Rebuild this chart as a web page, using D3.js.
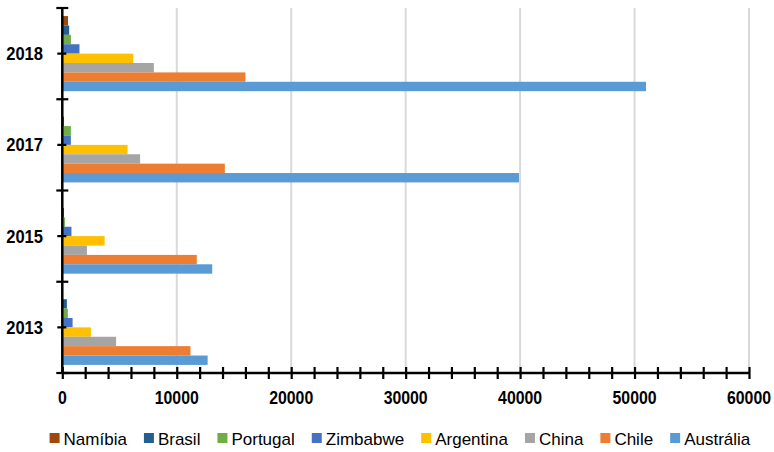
<!DOCTYPE html>
<html><head><meta charset="utf-8">
<script src="https://cdn.jsdelivr.net/npm/d3@7"></script>
<style>body{margin:0;background:#fff}</style>
</head><body>
<svg id="c" width="774" height="452"></svg>
<script>
const years = ["2018","2017","2015","2013"];
const seriesNames = ["Namíbia","Brasil","Portugal","Zimbabwe","Argentina","China","Chile","Austrália"];
const seriesColors = ["#9E480E","#255E91","#70AD47","#4472C4","#FFC000","#A5A5A5","#ED7D31","#5B9BD5"];
const namibia   = [500, 0, 0, 0];
const brasil    = [600, 150, 150, 400];
const portugal  = [750, 750, 230, 480];
const zimbabwe  = [1500, 750, 800, 900];
const argentina = [6200, 5700, 3700, 2500];
const china     = [8000, 6800, 2150, 4700];
const chile     = [16000, 14200, 11750, 11200];
const australia = [51000, 39900, 13100, 12700];
const xTicks = [0,10000,20000,30000,40000,50000,60000];

(function(){
const seriesValues = [namibia,brasil,portugal,zimbabwe,argentina,china,chile,australia];
const svg = d3.select("#c");
const pLeft = 62.3, pRight = 749, pTop = 8, pBottom = 373;
const fontB = "'Liberation Sans',Arial,sans-serif";

const x = d3.scaleLinear().domain([0,60000]).range([pLeft,pRight]);
const y = d3.scaleBand().domain(years).range([pTop,pBottom]).padding(0);
const yi = d3.scaleBand().domain(seriesNames).range([0,y.bandwidth()]).paddingInner(0).paddingOuter(0.86);

// gridlines
svg.append("g").selectAll("line").data(xTicks.slice(1)).join("line")
  .attr("x1",d=>x(d)).attr("x2",d=>x(d)).attr("y1",pTop).attr("y2",pBottom)
  .attr("stroke","#D9D9D9").attr("stroke-width",2);

// bars
const groups = svg.append("g").selectAll("g").data(years).join("g")
  .attr("transform",d=>`translate(0,${y(d)})`);
groups.selectAll("rect").data((yr,i)=>seriesNames.map((s,j)=>({s, c:seriesColors[j], v:seriesValues[j][i]})))
  .join("rect")
  .attr("x",x(0)).attr("y",d=>yi(d.s)).attr("height",yi.bandwidth())
  .attr("width",d=>Math.max(0,x(d.v)-x(0))).attr("fill",d=>d.c);

// x axis
const xAxis = d3.axisBottom(x).tickValues(d3.range(0,60001,2000)).tickSize(6).tickFormat("");
const gx = svg.append("g").attr("transform",`translate(0,${pBottom})`).call(xAxis);
gx.select(".domain").attr("stroke","#000").attr("stroke-width",2.5).attr("d",`M${pLeft},0H${pRight}`);
gx.selectAll(".tick line").attr("stroke","#000").attr("stroke-width",2.2).attr("y1",-6).attr("y2",6);
const xl = svg.append("g").selectAll("text").data(xTicks).join("text")
  .attr("text-anchor","middle")
  .attr("font-family",fontB).attr("font-weight","bold").attr("font-size",18)
  .text(d=>d);
xl.each(function(d){
  const w = this.getComputedTextLength()*0.88;
  const cx = Math.min(x(d), 771 - w/2);
  d3.select(this).attr("transform",`translate(${cx},404) scale(0.88,1)`);
});

// y axis
const gy = svg.append("g").attr("transform",`translate(${pLeft},0)`);
gy.append("line").attr("x1",0).attr("x2",0).attr("y1",pTop).attr("y2",pBottom).attr("stroke","#000").attr("stroke-width",2.5);
const bounds = years.map(d=>y(d)).concat([pBottom]);
gy.selectAll("line.b").data(bounds).join("line").attr("class","b")
  .attr("x1",-6).attr("x2",6).attr("y1",d=>d).attr("y2",d=>d).attr("stroke","#000").attr("stroke-width",2.2);
gy.selectAll("line.m").data(years).join("line").attr("class","m")
  .attr("x1",-5).attr("x2",4).attr("y1",d=>y(d)+y.bandwidth()/2).attr("y2",d=>y(d)+y.bandwidth()/2)
  .attr("stroke","#000").attr("stroke-width",2.2);
svg.append("g").selectAll("text").data(years).join("text")
  .attr("text-anchor","end")
  .attr("transform",d=>`translate(43,${y(d)+y.bandwidth()/2+6.5}) scale(0.92,1)`)
  .attr("font-family",fontB).attr("font-weight","bold").attr("font-size",18)
  .text(d=>d);

// legend
const lg = svg.append("g");
let lx = 49.6;
seriesNames.forEach((s,j)=>{
  lg.append("rect").attr("x",lx).attr("y",433).attr("width",10).attr("height",10).attr("fill",seriesColors[j]);
  const t = lg.append("text").attr("x",lx+14).attr("y",444.5)
    .attr("font-family",fontB).attr("font-size",17).attr("fill","#000").text(s);
  lx += 14 + t.node().getComputedTextLength() + 17;
});
})();
</script>
</body></html>
